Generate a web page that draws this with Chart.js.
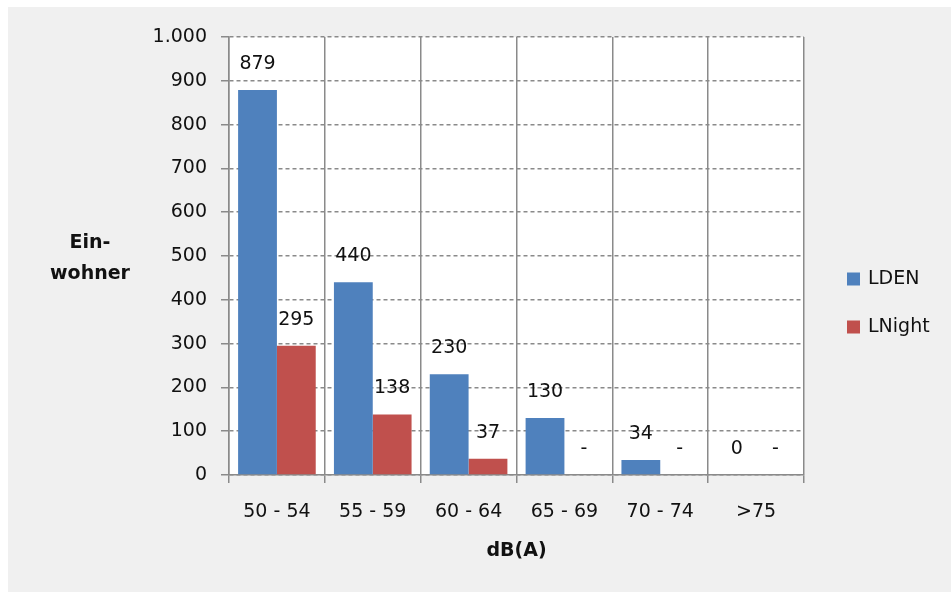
<!DOCTYPE html>
<html><head><meta charset="utf-8">
<script src="https://cdn.jsdelivr.net/npm/chart.js@4.4.1/dist/chart.umd.min.js"></script>
<style>
html,body{margin:0;padding:0;background:#fff;overflow:hidden;}
#bg{position:absolute;left:8px;top:7px;width:943px;height:585px;background:#f0f0f0;}
#c{position:absolute;left:0;top:0;}
</style></head><body>
<div id="bg"></div>
<canvas id="c" width="951" height="592"></canvas>
<script>
const categories = ['50 - 54', '55 - 59', '60 - 64', '65 - 69', '70 - 74', '>75'];
const ldenValues = [879, 440, 230, 130, 34, 0];
const lnightValues = [295, 138, 37, null, null, null];
const seriesNames = ['LDEN', 'LNight'];
const seriesColors = ['#4f81bd', '#c0504d'];
const yTitleLines = ['Ein-', 'wohner'];
const xTitle = 'dB(A)';
const yMin = 0, yMax = 1000, yStep = 100;

const FONT = '"DejaVu Sans", sans-serif';
const TEXT = '#111';
const GRID = '#8a8a8a';

function fmt(v) { return String(v).replace(/\B(?=(\d{3})+(?!\d))/g, '.'); }

const areaPlugin = {
  id: 'plotBg',
  beforeDraw(chart) {
    const a = chart.chartArea, ctx = chart.ctx;
    ctx.save();
    ctx.fillStyle = '#ffffff';
    ctx.fillRect(a.left, a.top, a.right - a.left, a.bottom - a.top);
    ctx.restore();
  }
};

const labelPlugin = {
  id: 'barLabels',
  afterDatasetsDraw(chart) {
    const ctx = chart.ctx, ys = chart.scales.y;
    ctx.save();
    ctx.font = '19px ' + FONT;
    ctx.fillStyle = TEXT;
    ctx.textAlign = 'center';
    ctx.textBaseline = 'middle';
    chart.data.datasets.forEach((ds, di) => {
      const meta = chart.getDatasetMeta(di);
      meta.data.forEach((bar, i) => {
        const v = ds.data[i];
        const top = (v == null) ? ys.getPixelForValue(0) : bar.y;
        ctx.fillText(v == null ? '-' : fmt(v), bar.x, top - 26);
      });
    });
    ctx.restore();
  }
};

const sidePlugin = {
  id: 'sideTexts',
  afterDraw(chart) {
    const ctx = chart.ctx, a = chart.chartArea;
    ctx.save();
    ctx.font = 'bold 19px ' + FONT;
    ctx.fillStyle = TEXT;
    ctx.textAlign = 'center';
    ctx.textBaseline = 'middle';
    const cy = (a.top + a.bottom) / 2 + 3;
    const lh = 31;
    yTitleLines.forEach((t, i) => {
      ctx.fillText(t, a.left - 139, cy + (i - (yTitleLines.length - 1) / 2) * lh);
    });
    ctx.font = '19px ' + FONT;
    ctx.textAlign = 'left';
    const midY = (7 + chart.height) / 2 + 4;
    chart.data.datasets.forEach((ds, i) => {
      const y = midY - 24 + i * 48;
      ctx.fillStyle = ds.backgroundColor;
      ctx.fillRect(a.right + 43, y - 7, 13, 13);
      ctx.fillStyle = TEXT;
      ctx.fillText(ds.label, a.right + 64, y);
    });
    ctx.restore();
  }
};

new Chart(document.getElementById('c'), {
  type: 'bar',
  data: {
    labels: categories,
    datasets: [
      { label: seriesNames[0], data: ldenValues, backgroundColor: seriesColors[0] },
      { label: seriesNames[1], data: lnightValues, backgroundColor: seriesColors[1] }
    ]
  },
  options: {
    responsive: false,
    animation: false,
    devicePixelRatio: 1,
    layout: { padding: { top: 37, right: 147, bottom: 0, left: 0 } },
    datasets: { bar: { categoryPercentage: 0.81, barPercentage: 1 } },
    plugins: { legend: { display: false }, tooltip: { enabled: false } },
    scales: {
      x: {
        grid: { color: GRID, lineWidth: 1.5, tickLength: 8, offset: true },
        border: { color: GRID, width: 1.5 },
        ticks: { font: { family: FONT, size: 19 }, color: TEXT, padding: 18, maxRotation: 0, autoSkip: false },
        title: { display: true, text: xTitle, color: TEXT, font: { family: FONT, size: 19, weight: 'bold' }, padding: { top: 0, bottom: 30 } },
        afterFit(s) { s.height = 117; }
      },
      y: {
        min: yMin, max: yMax,
        grid: { color: GRID, lineWidth: 1.5, tickLength: 8, tickBorderDash: [] },
        border: { color: GRID, width: 1.5, dash: [4, 3] },
        ticks: { stepSize: yStep, font: { family: FONT, size: 19 }, color: TEXT, padding: 14, callback: v => fmt(v) },
        afterFit(s) { s.width = 229; }
      }
    }
  },
  plugins: [areaPlugin, labelPlugin, sidePlugin]
});
</script>
</body></html>
